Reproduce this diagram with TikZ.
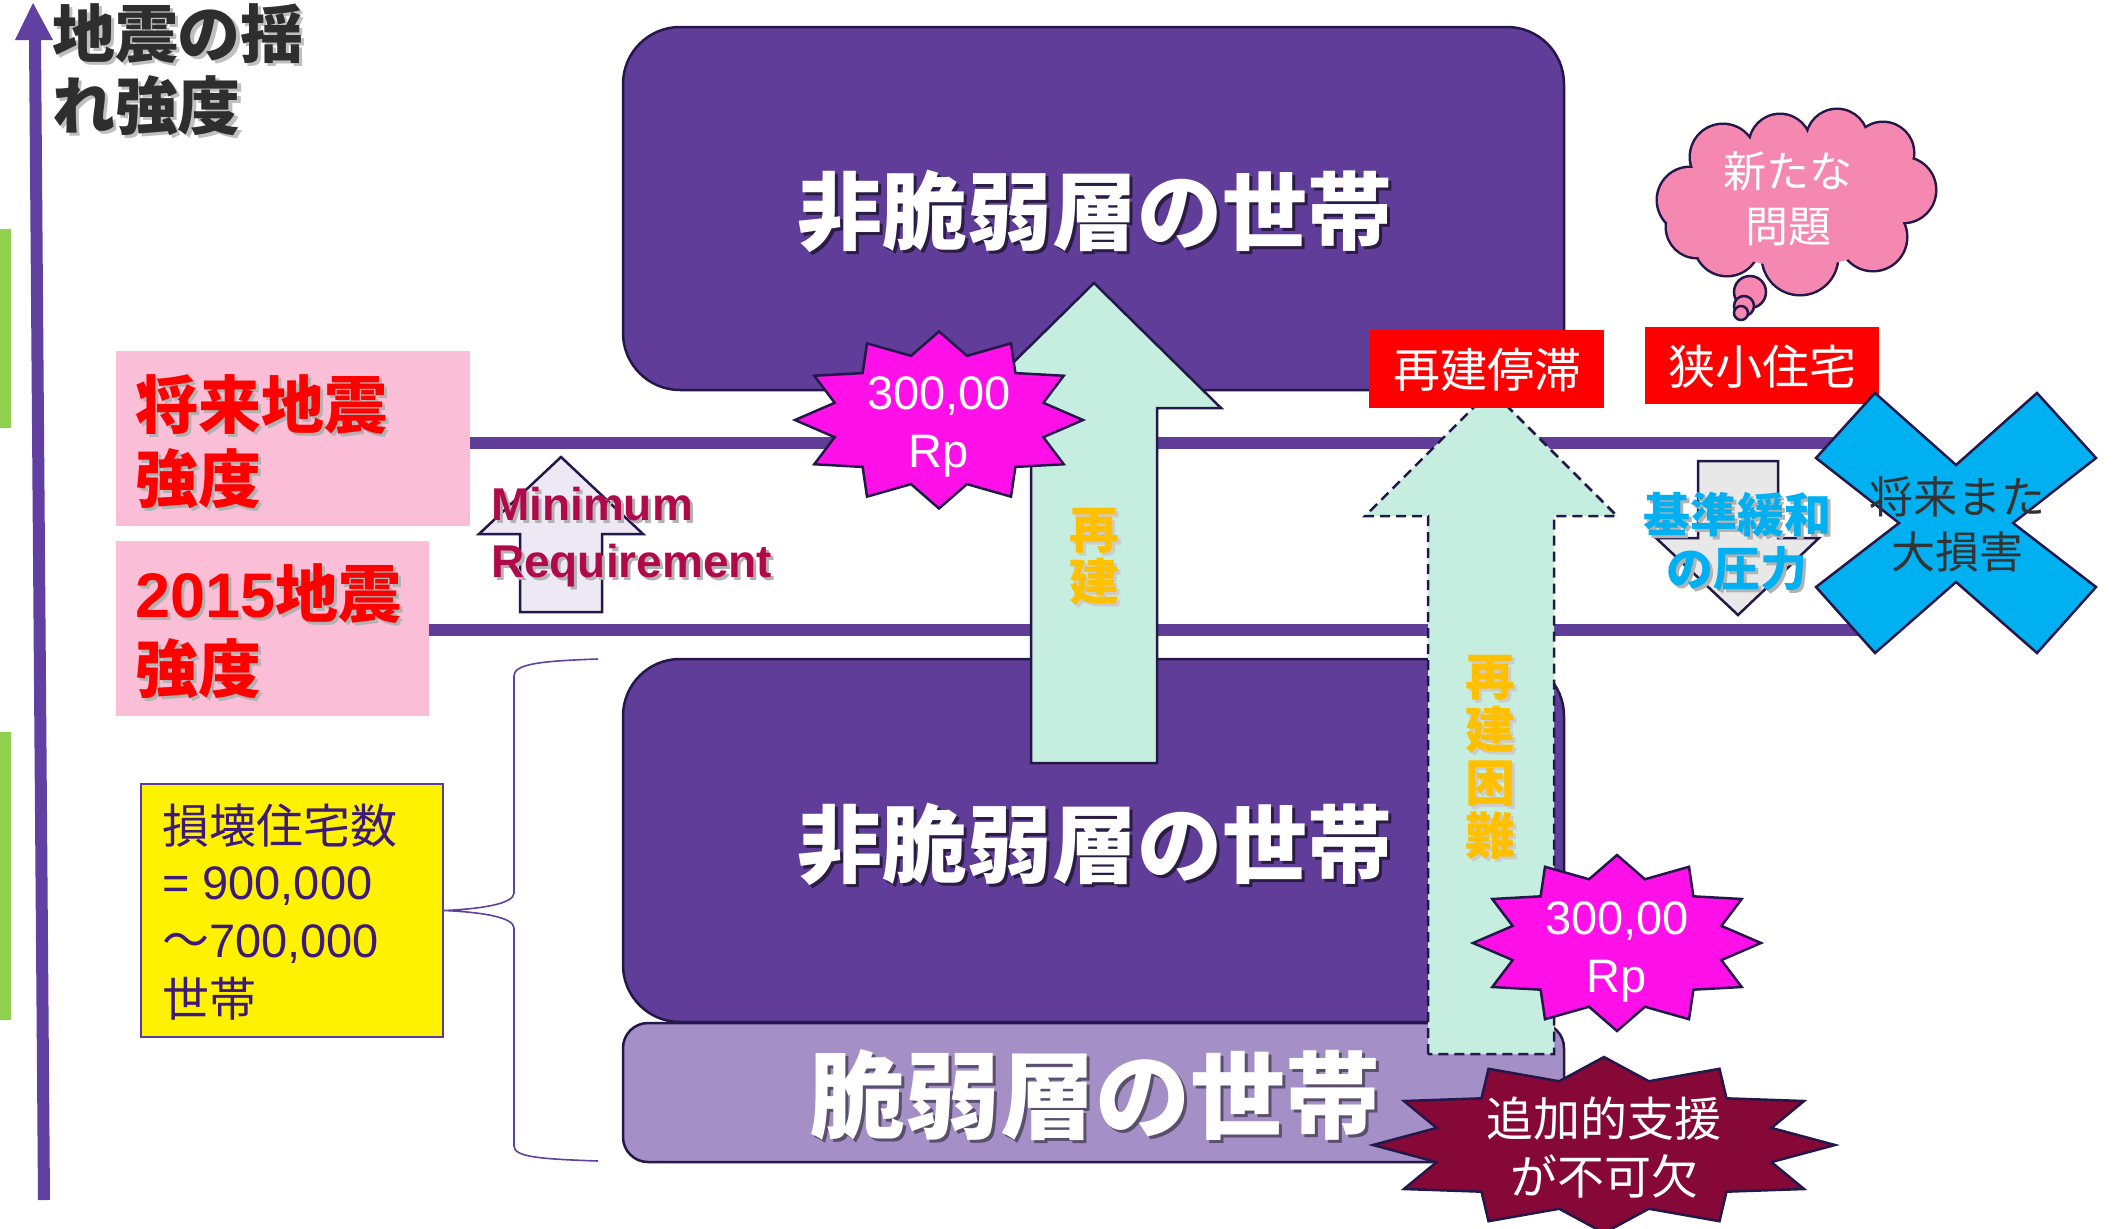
\documentclass[tikz,border=0pt]{standalone}
\usepackage{fontspec}
\setmainfont{Liberation Sans}
\newfontfamily\jp{Noto Sans CJK JP}
\definecolor{pur}{HTML}{5F3D98}
\definecolor{navy}{HTML}{24174A}
\definecolor{lpur}{HTML}{A490C7}
\definecolor{mint}{HTML}{C5EEE0}
\definecolor{mag}{HTML}{FF10E8}
\definecolor{wine}{HTML}{850837}
\definecolor{pinkb}{HTML}{FBBED7}
\definecolor{grn}{HTML}{92D050}
\definecolor{axc}{HTML}{6040A0}
\definecolor{cloudp}{HTML}{F588B1}
\definecolor{lgray}{HTML}{E8E8E8}
\definecolor{lav}{HTML}{ECE8F4}
\definecolor{minc}{HTML}{B00A4B}
\definecolor{ytxt}{HTML}{3D1A7A}
\definecolor{ybord}{HTML}{5C3C9C}
\definecolor{orng}{HTML}{FFC000}
\definecolor{cyanc}{HTML}{00B0F0}
\definecolor{tgray}{HTML}{2E2E2E}
\definecolor{xtxt}{HTML}{333333}
\newcommand\fs[1]{\fontsize{#1}{#1}\selectfont}
\newcommand\shd[2]{\leavevmode\rlap{\kern3pt\raisebox{-3pt}{\textcolor{#1}{#2}}}#2}
\newcommand\starXII[5]{%
  \path[#1] plot[samples at={0,15,...,345}]
   ({#2+#4*cos(\x)*(1-0.25*mod(round(\x/15),2))},{#3+#5*sin(\x)*(1-0.25*mod(round(\x/15),2))}) -- cycle;}
\begin{document}
\begin{tikzpicture}[x=1pt,y=-1pt,
  txt/.style={inner sep=0pt, outer sep=0pt, anchor=base},
  ol/.style={draw=navy, line width=2.5pt, line join=miter},
  hline/.style={draw=pur, line width=12pt}]
\useasboundingbox (0,0) rectangle (2113,1229);
\fill[white] (0,0) rectangle (2113,1229);

% green bars and axis
\fill[grn] (0,229) rectangle (11,428);
\fill[grn] (0,732) rectangle (11,1020);
\draw[axc, line width=12pt] (44,1200) -- (35,38);
\fill[axc] (15,40) -- (53,40) -- (33,3) -- cycle;
\node[txt, anchor=base west, text=tgray] (title1) at (52,57) {\fs{63}\jp\bfseries\shd{black!25}{地震の揺}};
\node[txt, anchor=base west, text=tgray] (title2) at (52,129) {\fs{63}\jp\bfseries\shd{black!25}{れ強度}};

% horizontal level lines
\path[hline] (460,443) -- (1860,443);
\path[hline] (420,630) -- (1870,630);

% pink boxes
\fill[pinkb] (116,351) rectangle (470,526);
\fill[pinkb] (116,541) rectangle (429,716);
\node[txt, anchor=base west, text=red] (fut1) at (135,428) {\fs{63}\jp\bfseries\shd{black!30}{将来地震}};
\node[txt, anchor=base west, text=red] (fut2) at (135,502) {\fs{63}\jp\bfseries\shd{black!30}{強度}};
\node[txt, anchor=base west, text=red] (eq1) at (135,617) {\fs{63}\shd{black!30}{\bfseries 2015}\jp\bfseries\shd{black!30}{地震}};
\node[txt, anchor=base west, text=red] (eq2) at (135,692) {\fs{63}\jp\bfseries\shd{black!30}{強度}};

% purple boxes
\draw[ol, fill=pur, rounded corners=57pt] (623,27) rectangle (1564,390);
\draw[ol, fill=pur, rounded corners=57pt] (623,659) rectangle (1564,1022);
\draw[ol, fill=lpur, rounded corners=25pt] (623,1023) rectangle (1564,1162);
\node[txt, text=white] (nv1) at (1095,243) {\fs{85}\jp\bfseries\shd{pur!45!black}{非脆弱層の世帯}};
\node[txt, text=white] (nv2) at (1095,876) {\fs{85}\jp\bfseries\shd{pur!45!black}{非脆弱層の世帯}};
\node[txt, text=white] (vul) at (1095,1131) {\fs{95}\jp\bfseries\shd{lpur!55!black}{脆弱層の世帯}};

% rebuild arrow
\draw[ol, fill=mint] (1031,763) -- (1031,408) -- (967,408) -- (1094,283) -- (1221,408) -- (1157,408) -- (1157,763) -- cycle;
\node[txt, text=orng] (rb1) at (1094,548) {\fs{50}\jp\bfseries\shd{black!20}{再}};
\node[txt, text=orng] (rb2) at (1094,600) {\fs{50}\jp\bfseries\shd{black!20}{建}};
\starXII{ol, fill=mag}{939}{420}{144}{88.5}
\node[txt, text=white] (s1a) at (939,409) {\fs{47}300,00};
\node[txt, text=white] (s1b) at (939,467) {\fs{47}Rp};

% difficult rebuild arrow (dashed)
\draw[ol, dash pattern=on 10pt off 6pt, fill=mint] (1428,1054) -- (1428,516) -- (1365,516) -- (1491,390) -- (1617,516) -- (1554,516) -- (1554,1054) -- cycle;
\node[txt, text=orng] (rd1) at (1490,695) {\fs{50}\jp\bfseries\shd{black!20}{再}};
\node[txt, text=orng] (rd2) at (1490,748) {\fs{50}\jp\bfseries\shd{black!20}{建}};
\node[txt, text=orng] (rd3) at (1490,801) {\fs{50}\jp\bfseries\shd{black!20}{困}};
\node[txt, text=orng] (rd4) at (1490,854) {\fs{50}\jp\bfseries\shd{black!20}{難}};
\starXII{ol, fill=mag}{1617}{943}{144}{88}
\node[txt, text=white] (s2a) at (1617,934) {\fs{47}300,00};
\node[txt, text=white] (s2b) at (1617,992) {\fs{47}Rp};
\starXII{ol, fill=wine}{1604}{1145}{231}{88}
\node[txt, text=white] (s3a) at (1604,1136) {\fs{47}\jp 追加的支援};
\node[txt, text=white] (s3b) at (1604,1194) {\fs{47}\jp が不可欠};

% red boxes
\fill[red] (1369,330) rectangle (1604,408);
\node[txt, text=white] (stall) at (1487,387) {\fs{47}\jp 再建停滞};
\fill[red] (1645,327) rectangle (1879,404);
\node[txt, text=white] (small) at (1762,384) {\fs{47}\jp 狭小住宅};

% down arrow
\draw[ol, fill=lgray] (1698,461) -- (1778,461) -- (1778,538) -- (1819,538) -- (1738,615) -- (1656,538) -- (1698,538) -- cycle;
\node[txt, text=cyanc] (relax1) at (1737,532) {\fs{47}\jp\bfseries\shd{black!30}{基準緩和}};
\node[txt, text=cyanc] (relax2) at (1737,586) {\fs{47}\jp\bfseries\shd{black!30}{の圧力}};

% X shape
\draw[ol, fill=cyanc] (1816,458) -- (1875,393) -- (1956,465) -- (2037,393) -- (2096,458) -- (2013,523) -- (2096,587) -- (2037,653) -- (1956,582) -- (1875,653) -- (1816,587) -- (1899,523) -- cycle;
\node[txt, text=xtxt] (x1) at (1957,513) {\fs{44}\jp 将来また};
\node[txt, text=xtxt] (x2) at (1957,568) {\fs{44}\jp 大損害};

% minimum requirement arrow
\draw[ol, fill=lav] (520,612) -- (520,534) -- (479,534) -- (561,457) -- (643,534) -- (602,534) -- (602,612) -- cycle;
\node[txt, anchor=base west, text=minc] (min1) at (491,520) {\fs{46}\bfseries\shd{black!30}{Minimum}};
\node[txt, anchor=base west, text=minc] (min2) at (491,577) {\fs{46}\bfseries\shd{black!30}{Requirement}};

% cloud
\foreach \cx/\cy/\r in {1690/200/32,1723/157/32,1780/145/30,1837/140/30,1883/153/30,1903/190/32,1873/237/33,1800/257/37,1727/243/32,1697/227/30}
  {\draw[navy, line width=5pt] (\cx,\cy) circle (\r pt);}
\foreach \cx/\cy/\r in {1690/200/32,1723/157/32,1780/145/30,1837/140/30,1883/153/30,1903/190/32,1873/237/33,1800/257/37,1727/243/32,1697/227/30}
  {\fill[cloudp] (\cx,\cy) circle (\r pt);}
\fill[cloudp] (1797,200) ellipse (110pt and 67pt);
\draw[navy, line width=2.5pt, fill=cloudp] (1750,292) circle (16pt);
\draw[navy, line width=2.5pt, fill=cloudp] (1744,306) circle (10pt);
\draw[navy, line width=2.5pt, fill=cloudp] (1741,313) circle (7pt);
\node[txt, text=white] (new1) at (1788,187) {\fs{43}\jp 新たな};
\node[txt, text=white] (new2) at (1788,242) {\fs{43}\jp 問題};

% yellow box and brace
\node[draw=ybord, line width=2pt, fill=yellow, minimum width=302pt, minimum height=253pt, inner sep=0pt] (ybox) at (292,910.5) {};
\node[txt, anchor=base west, text=ytxt] (y1) at (162,843) {\fs{47}\jp 損壊住宅数};
\node[txt, anchor=base west, text=ytxt] (y2) at (162,899) {\fs{47}= 900,000};
\node[txt, anchor=base west, text=ytxt] (y3) at (162,957) {\fs{47}{\jp ～}700,000};
\node[txt, anchor=base west, text=ytxt] (y4) at (162,1016) {\fs{47}\jp 世帯};
\coordinate (brtop) at (598,659);
\coordinate (brbot) at (598,1161);
\draw[axc, line width=1.6pt] (brtop) .. controls (540,661) and (514,664) .. (514,676) -- (514,893) .. controls (514,904) and (480,909) .. (ybox.east) .. controls (480,912) and (514,917) .. (514,928) -- (514,1146) .. controls (514,1157) and (540,1159) .. (brbot);
\end{tikzpicture}
\end{document}
